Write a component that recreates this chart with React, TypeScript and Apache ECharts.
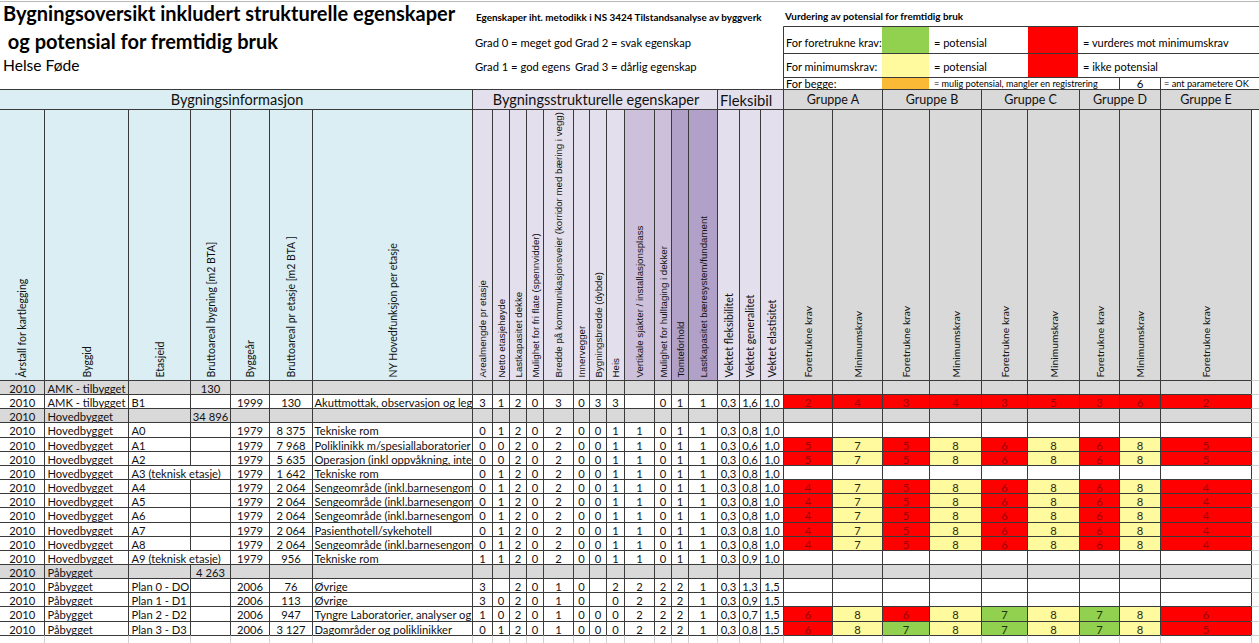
import React, { useEffect, useRef } from "react";
import * as echarts from "echarts";

// ---------- DATA ----------
const titleLines = ["Bygningsoversikt inkludert strukturelle egenskaper", " og potensial for fremtidig bruk"];
const subtitle = "Helse Føde";

const sectionNames = ["Bygningsinformasjon", "Bygningsstrukturelle egenskaper", "Fleksibilitet"];
const groupNames = ["Gruppe A", "Gruppe B", "Gruppe C", "Gruppe D", "Gruppe E"];

const infoHeaders = [
  "Årstall for kartlegging",
  "Byggid",
  "Etasjeid",
  "Bruttoareal bygning [m2 BTA]",
  "Byggeår",
  "Bruttoareal pr etasje [m2 BTA ]",
  "NY Hovedfunksjon per etasje",
];
const structHeaders = [
  "Arealmengde pr etasje",
  "Netto etasjehøyde",
  "Lastkapasitet dekke",
  "Mulighet for fri flate (spennvidder)",
  "Bredde på kommunikasjonsveier (korridor med bæring i vegg)",
  "Innervegger",
  "Bygningsbredde (dybde)",
  "Heis",
  "Vertikale sjakter / installasjonsplass",
  "Mulighet for hulltaging i dekker",
  "Tomteforhold",
  "Lastkapasitet bæresystem/fundament",
];
const flexHeaders = ["Vektet fleksibilitet", "Vektet generalitet", "Vektet elastisitet"];
const resultHeaders = [
  "Foretrukne krav", "Minimumskrav",
  "Foretrukne krav", "Minimumskrav",
  "Foretrukne krav", "Minimumskrav",
  "Foretrukne krav", "Minimumskrav",
  "Foretrukne krav",
];
// which result columns are "minimumskrav" (yellow when OK) vs "foretrukne" (green when OK)
const resultIsMinimum = [false, true, false, true, false, true, false, true, false];

const years = ["2010", "2010", "2010", "2010", "2010", "2010", "2010", "2010", "2010", "2010", "2010", "2010", "2010", "2010", "2010", "2010", "2010", "2010"];
const byggId = [
  "AMK - tilbygget", "AMK - tilbygget", "Hovedbygget", "Hovedbygget", "Hovedbygget", "Hovedbygget",
  "Hovedbygget", "Hovedbygget", "Hovedbygget", "Hovedbygget", "Hovedbygget", "Hovedbygget",
  "Hovedbygget", "Påbygget", "Påbygget", "Påbygget", "Påbygget", "Påbygget",
];
const etasjeId = [
  "", "B1", "", "A0", "A1", "A2", "A3 (teknisk etasje)", "A4", "A5", "A6", "A7", "A8",
  "A9 (teknisk etasje)", "", "Plan 0 - DO", "Plan 1 - D1", "Plan 2 - D2", "Plan 3 - D3",
];
const bruttoBygning = ["130", "", "34 896", "", "", "", "", "", "", "", "", "", "", "4 263", "", "", "", ""];
const byggeaar = ["", "1999", "", "1979", "1979", "1979", "1979", "1979", "1979", "1979", "1979", "1979", "1979", "", "2006", "2006", "2006", "2006"];
const bruttoEtasje = ["", "130", "", "8 375", "7 968", "5 635", "1 642", "2 064", "2 064", "2 064", "2 064", "2 064", "956", "", "76", "113", "947", "3 127"];
// as visible in the cells (longer texts are cut by the next column)
const hovedfunksjon = [
  "",
  "Akuttmottak, observasjon og legev",
  "",
  "Tekniske rom",
  "Poliklinikk m/spesiallaboratorier (g",
  "Operasjon (inkl oppvåkning, intens",
  "Tekniske rom",
  "Sengeområde (inkl.barnesengomr",
  "Sengeområde (inkl.barnesengomr",
  "Sengeområde (inkl.barnesengomr",
  "Pasienthotell/sykehotell",
  "Sengeområde (inkl.barnesengomr",
  "Tekniske rom",
  "",
  "Øvrige",
  "Øvrige",
  "Tyngre Laboratorier, analyser og b",
  "Dagområder og poliklinikker",
];
// 12 structural grades + 3 weighted flexibility values per row
const structValues: string[][] = [
  ["", "", "", "", "", "", "", "", "", "", "", "", "", "", ""],
  ["3", "1", "2", "0", "3", "0", "3", "3", "", "0", "1", "1", "0,3", "1,6", "1,0"],
  ["", "", "", "", "", "", "", "", "", "", "", "", "", "", ""],
  ["0", "1", "2", "0", "2", "0", "0", "1", "1", "0", "1", "1", "0,3", "0,8", "1,0"],
  ["0", "0", "2", "0", "2", "0", "0", "1", "1", "0", "1", "1", "0,3", "0,6", "1,0"],
  ["0", "0", "2", "0", "2", "0", "0", "1", "1", "0", "1", "1", "0,3", "0,6", "1,0"],
  ["0", "1", "2", "0", "2", "0", "0", "1", "1", "0", "1", "1", "0,3", "0,8", "1,0"],
  ["0", "1", "2", "0", "2", "0", "0", "1", "1", "0", "1", "1", "0,3", "0,8", "1,0"],
  ["0", "1", "2", "0", "2", "0", "0", "1", "1", "0", "1", "1", "0,3", "0,8", "1,0"],
  ["0", "1", "2", "0", "2", "0", "0", "1", "1", "0", "1", "1", "0,3", "0,8", "1,0"],
  ["0", "1", "2", "0", "2", "0", "0", "1", "1", "0", "1", "1", "0,3", "0,8", "1,0"],
  ["0", "1", "2", "0", "2", "0", "0", "1", "1", "0", "1", "1", "0,3", "0,8", "1,0"],
  ["1", "1", "2", "0", "2", "0", "0", "1", "1", "0", "1", "1", "0,3", "0,9", "1,0"],
  ["", "", "", "", "", "", "", "", "", "", "", "", "", "", ""],
  ["3", "", "2", "0", "1", "0", "", "2", "2", "2", "2", "1", "0,3", "1,3", "1,5"],
  ["3", "0", "2", "0", "1", "0", "", "0", "2", "2", "2", "1", "0,3", "0,9", "1,5"],
  ["1", "0", "2", "0", "1", "0", "0", "0", "2", "2", "2", "1", "0,3", "0,7", "1,5"],
  ["0", "1", "2", "0", "1", "0", "0", "0", "2", "2", "2", "1", "0,3", "0,8", "1,5"],
];
// potential scores (A-F, A-M, B-F, B-M, C-F, C-M, D-F, D-M, E-F)
const resultValues: (number | null)[][] = [
  [null, null, null, null, null, null, null, null, null],
  [2, 4, 3, 4, 3, 5, 3, 6, 2],
  [null, null, null, null, null, null, null, null, null],
  [null, null, null, null, null, null, null, null, null],
  [5, 7, 5, 8, 6, 8, 6, 8, 5],
  [5, 7, 5, 8, 6, 8, 6, 8, 5],
  [null, null, null, null, null, null, null, null, null],
  [4, 7, 5, 8, 6, 8, 6, 8, 4],
  [4, 7, 5, 8, 6, 8, 6, 8, 4],
  [4, 7, 5, 8, 6, 8, 6, 8, 4],
  [4, 7, 5, 8, 6, 8, 6, 8, 4],
  [4, 7, 5, 8, 6, 8, 6, 8, 4],
  [null, null, null, null, null, null, null, null, null],
  [null, null, null, null, null, null, null, null, null],
  [null, null, null, null, null, null, null, null, null],
  [null, null, null, null, null, null, null, null, null],
  [6, 8, 6, 8, 7, 8, 7, 8, 6],
  [6, 8, 7, 8, 7, 8, 7, 8, 5],
];
const okThreshold = 7;

// ---------- STYLE / LAYOUT ----------
const W = 1259;
const H = 643;
const F = "Lato, 'Open Sans', sans-serif";
const A = "'Liberation Sans', Arial, sans-serif";
const C = {
  blue: "#DAEEF3",
  lav: "#E4DFEC",
  lavM: "#CCC0DA",
  lavD: "#B1A0C7",
  grey: "#D9D9D9",
  red: "#FF0000",
  yellow: "#FFFA9E",
  green: "#92D050",
  orange: "#FBBA35",
  line: "#3a3a3a",
  faint: "#d0d0d0",
};
const structShade = ["L", "L", "L", "L", "L", "L", "L", "L", "M", "M", "D", "D"];

const infoX = [0, 44.5, 128.5, 190.5, 230.5, 269.5, 312.5, 472.5];
const structX = [472.5, 492.5, 509.5, 526.5, 543.5, 573.5, 589.5, 606.5, 624.5, 654.5, 671.5, 688.5, 717.5];
const flexX = [717.5, 739.5, 760.5, 783.5];
const grpX = [783.5, 832.5, 882.5, 929.5, 981.5, 1027.5, 1079.5, 1119.5, 1160.5, 1251.5];
const grpSpans = [[0, 2], [2, 4], [4, 6], [6, 8], [8, 9]];
const allX = [...infoX, ...structX.slice(1), ...flexX.slice(1), ...grpX.slice(1)];

const bandTop = 89.5;
const bandBot = 109.5;
const dataTop = 380.5;
const rowH = 14.15;
const rowLine = (i: number) => Math.round(dataTop - 0.5 + i * rowH) + 0.5;

function buildElements() {
  const els: any[] = [];
  const R = (x: number, y: number, w: number, h: number, fill: string, z = 1) =>
    els.push({ type: "rect", silent: true, z, shape: { x, y, width: w, height: h }, style: { fill } });
  const L = (x1: number, y1: number, x2: number, y2: number, stroke = C.line) =>
    els.push({ type: "line", silent: true, z: 6, shape: { x1, y1, x2, y2 }, style: { stroke, lineWidth: 1 } });
  const T = (x: number, y: number, text: string, o: any = {}) => {
    const style: any = {
      text,
      fill: o.fill || "#111",
      fontSize: o.size || 11.2,
      fontFamily: o.family || F,
      fontWeight: o.weight || "normal",
      align: o.align || "left",
      verticalAlign: o.va || "middle",
      textAlign: o.align || "left",
      textVerticalAlign: o.va || "middle",
    };
    if (o.width) {
      style.width = o.width;
      style.overflow = "truncate";
      style.ellipsis = "";
    }
    els.push({ type: "text", silent: true, z: o.z || 5, x, y, rotation: o.rot || 0, style });
  };

  // top border
  L(0, 1.5, W, 1.5, "#b8b8b8");

  // title
  T(3, 13, titleLines[0], { size: 20, weight: "bold", fill: "#000" });
  T(3, 41, titleLines[1], { size: 20, weight: "bold", fill: "#000" });
  T(3, 65, subtitle, { size: 15.6, fill: "#000" });

  // method note
  T(476, 17, "Egenskaper iht. metodikk i NS 3424 Tilstandsanalyse av byggverk", { size: 9.9, weight: "bold", fill: "#000" });
  T(475, 42.5, "Grad 0 = meget god", { size: 11.2, fill: "#000" });
  T(575, 42.5, "Grad 2 = svak egenskap", { size: 11.2, fill: "#000" });
  T(475, 66.5, "Grad 1 = god egensk", { size: 11.2, fill: "#000", width: 99 });
  T(575, 66.5, "Grad 3 = dårlig egenskap", { size: 11.2, fill: "#000" });

  // legend
  T(785, 16, "Vurdering av potensial for fremtidig bruk", { size: 9.9, weight: "bold", fill: "#000" });
  R(882, 27, 47, 26.5, C.green);
  R(1028, 27, 50, 26.5, C.red);
  R(882, 54, 47, 23.5, C.yellow);
  R(1028, 54, 50, 23.5, C.red);
  R(882, 78, 47, 11.5, C.orange);
  L(783.5, 26.5, W, 26.5);
  L(783.5, 53.5, W, 53.5);
  L(783.5, 77.5, W, 77.5);
  L(783.5, 26.5, 783.5, bandTop);
  L(1119.5, 77.5, 1119.5, bandTop);
  L(1160.5, 77.5, 1160.5, bandTop);
  T(786, 42.5, "For foretrukne krav:", { size: 11, fill: "#000" });
  T(934, 42.5, "= potensial", { size: 11, fill: "#000" });
  T(1083, 42.5, "= vurderes mot minimumskrav", { size: 11, fill: "#000" });
  T(786, 66.5, "For minimumskrav:", { size: 11, fill: "#000" });
  T(934, 66.5, "= potensial", { size: 11, fill: "#000" });
  T(1083, 66.5, "= ikke potensial", { size: 11, fill: "#000" });
  T(786, 83.5, "For begge:", { size: 11, fill: "#000" });
  T(934, 83.5, "= mulig potensial, mangler en registrering", { size: 9.1, fill: "#000" });
  T(1140, 83, "6", { size: 11.5, fill: "#000", align: "center" });
  T(1164, 83.5, "= ant parametere OK", { size: 9.2, fill: "#000" });

  // section band
  const bh = bandBot - bandTop;
  R(0, bandTop, 472.5, bh, C.blue);
  R(472.5, bandTop, 245, bh, C.lav);
  R(717.5, bandTop, 66, bh, C.lav);
  R(783.5, bandTop, W - 783.5, bh, C.grey);
  T(237, 99.5, sectionNames[0], { size: 14.5, align: "center", fill: "#111" });
  T(596, 99.5, sectionNames[1], { size: 14.5, align: "center", fill: "#111" });
  T(720, 99.5, sectionNames[2], { size: 14.8, fill: "#111", width: 67 });
  grpSpans.forEach((s, g) => {
    const cx = (grpX[s[0]] + grpX[s[1]]) / 2;
    T(cx, 99.5, groupNames[g], { size: 12.5, align: "center", fill: "#111" });
  });
  L(0, bandTop, W, bandTop);
  L(0, bandBot, W, bandBot);
  [472.5, 717.5, 783.5, 882.5, 981.5, 1079.5, 1160.5].forEach((x) => L(x, bandTop, x, bandBot));

  // column headers (vertical text)
  const hh = dataTop - bandBot;
  R(0, bandBot, 472.5, hh, C.blue);
  structHeaders.forEach((_, i) => {
    const sh = structShade[i];
    R(structX[i], bandBot, structX[i + 1] - structX[i], hh, sh === "D" ? C.lavD : sh === "M" ? C.lavM : C.lav);
  });
  R(717.5, bandBot, 66, hh, C.lav);
  R(783.5, bandBot, 1251.5 - 783.5, hh, C.grey);
  const ty = 377.5;
  infoHeaders.forEach((h, i) => T((infoX[i] + infoX[i + 1]) / 2, ty, h, { size: 10.5, rot: Math.PI / 2 }));
  structHeaders.forEach((h, i) => T((structX[i] + structX[i + 1]) / 2, ty, h, { size: 9.7, family: A, rot: Math.PI / 2 }));
  flexHeaders.forEach((h, i) => T((flexX[i] + flexX[i + 1]) / 2, ty, h, { size: 10.6, rot: Math.PI / 2 }));
  resultHeaders.forEach((h, i) => T((grpX[i] + grpX[i + 1]) / 2, ty, h, { size: 10.3, rot: Math.PI / 2 }));
  allX.slice(1).forEach((x) => L(x, bandBot, x, dataTop));

  // data rows
  const nRows = years.length;
  for (let r = 0; r < nRows; r++) {
    const y0 = rowLine(r);
    const y1 = rowLine(r + 1);
    const cy = (y0 + y1) / 2 + 0.5;
    const isGroup = etasjeId[r] === "";
    if (isGroup) R(0, y0, 1251.5, y1 - y0, C.grey);

    T((infoX[0] + infoX[1]) / 2, cy, years[r], { align: "center" });
    T(infoX[1] + 3, cy, byggId[r]);
    T(infoX[2] + 3, cy, etasjeId[r]);
    T((infoX[3] + infoX[4]) / 2, cy, bruttoBygning[r], { align: "center" });
    T((infoX[4] + infoX[5]) / 2, cy, byggeaar[r], { align: "center" });
    T((infoX[5] + infoX[6]) / 2, cy, bruttoEtasje[r], { align: "center" });
    T(infoX[6] + 2, cy, hovedfunksjon[r], { width: infoX[7] - infoX[6] + 3 });

    const sv = structValues[r];
    for (let c = 0; c < 12; c++) T((structX[c] + structX[c + 1]) / 2, cy, sv[c], { align: "center" });
    for (let c = 0; c < 3; c++) T((flexX[c] + flexX[c + 1]) / 2, cy, sv[12 + c], { align: "center" });

    const rv = resultValues[r];
    for (let c = 0; c < 9; c++) {
      const v = rv[c];
      if (v === null) continue;
      const ok = v >= okThreshold;
      const fill = ok ? (resultIsMinimum[c] ? C.yellow : C.green) : C.red;
      const tf = ok ? (resultIsMinimum[c] ? "#2b2b10" : "#1d3300") : "#9C0006";
      R(grpX[c], y0, grpX[c + 1] - grpX[c], y1 - y0, fill);
      T((grpX[c] + grpX[c + 1]) / 2, cy, String(v), { align: "center", fill: tf });
    }

    // vertical grid segments for this row (text overflow hides a border)
    const overflow = etasjeId[r].length > 12 && bruttoBygning[r] === "";
    allX.slice(1).forEach((x) => {
      if (overflow && x === infoX[3]) return;
      L(x, y0, x, y1);
    });
  }
  for (let r = 0; r <= nRows; r++) {
    const y = rowLine(r);
    L(0, y, 1251.5, y);
    L(1251.5, y, W, y, C.faint);
  }
  const yEnd = rowLine(nRows);
  allX.slice(1).forEach((x) => L(x, yEnd, x, H, C.faint));
  L(0, yEnd + 14, 1251.5, yEnd + 14, C.faint);

  return els;
}

export default function App() {
  const ref = useRef<HTMLDivElement>(null);
  useEffect(() => {
    if (!ref.current) return;
    const chart = echarts.init(ref.current, undefined, { renderer: "svg" });
    chart.setOption({
      animation: false,
      backgroundColor: "#ffffff",
      graphic: { elements: buildElements() },
    });
    return () => chart.dispose();
  }, []);
  return <div ref={ref} style={{ position: "absolute", left: 0, top: 0, width: W, height: H }} />;
}
